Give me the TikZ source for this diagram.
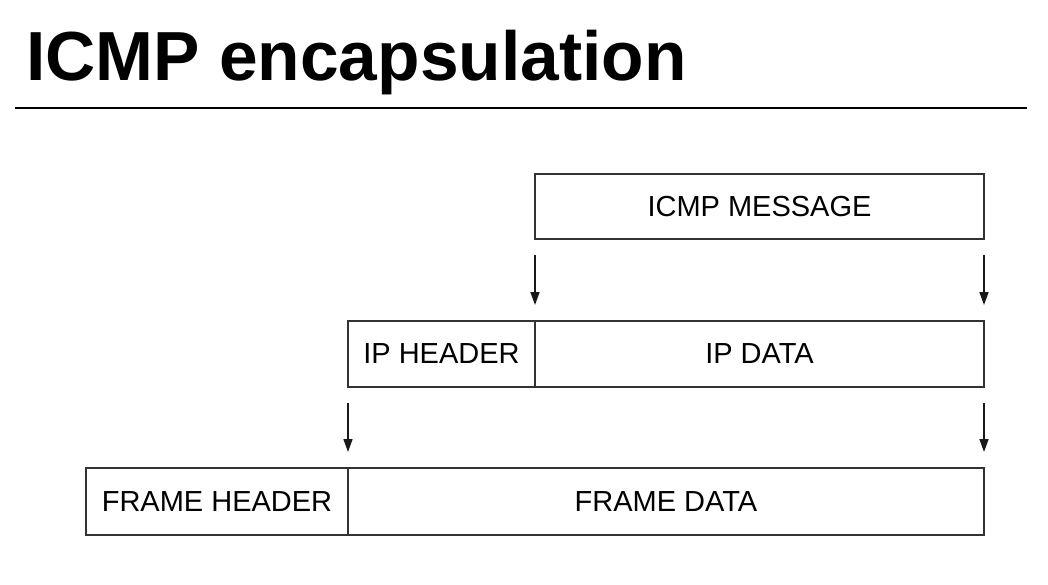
\documentclass[tikz,border=0pt]{standalone}
\usepackage{fontspec}
\setmainfont{Liberation Sans}
\usetikzlibrary{positioning,arrows.meta}

\begin{document}
\begin{tikzpicture}[
  x=1pt, y=-1pt,
  font=\fontsize{29}{32}\selectfont,
  node distance=0pt,
  cell/.style={draw=black!80, line width=1.6pt, align=center, inner sep=0pt, outer sep=0pt},
  arrow/.style={-{Triangle[length=13pt,width=9pt]}, line width=1.6pt, black!90},
  rule/.style={line width=1.4pt}
]
\useasboundingbox (0,0) rectangle (1048,584);

% Title and rule
\node[anchor=base west, inner sep=0pt, font=\fontsize{69.5}{74}\selectfont\bfseries] (title) at (26,80) {ICMP encapsulation};
\coordinate (ruleL) at (15,108);
\coordinate (ruleR) at (1027,108);
\draw[rule] (ruleL) -- (ruleR);

% Nodes (top to bottom)
\node[cell, minimum width=449pt, minimum height=65pt] (icmp) at (759.5,206.5) {ICMP MESSAGE};

\node[cell, minimum width=187pt, minimum height=66pt] (iphdr) at (441.5,354) {IP HEADER};
\node[cell, minimum width=449pt, minimum height=66pt, right=of iphdr] (ipdata) {IP DATA};

\node[cell, minimum width=262pt, minimum height=67pt] (framehdr) at (217,501.5) {FRAME HEADER};
\node[cell, minimum width=636pt, minimum height=67pt, right=of framehdr] (framedata) {FRAME DATA};

% Encapsulation arrows
\draw[arrow] ([yshift=-16pt]icmp.south west) -- ([yshift=16pt]ipdata.north west);
\draw[arrow] ([yshift=-16pt]icmp.south east) -- ([yshift=16pt]ipdata.north east);

\draw[arrow] ([yshift=-16pt]iphdr.south west) -- ([yshift=16pt]framedata.north west);
\draw[arrow] ([yshift=-16pt]ipdata.south east) -- ([yshift=16pt]framedata.north east);

\end{tikzpicture}
\end{document}
